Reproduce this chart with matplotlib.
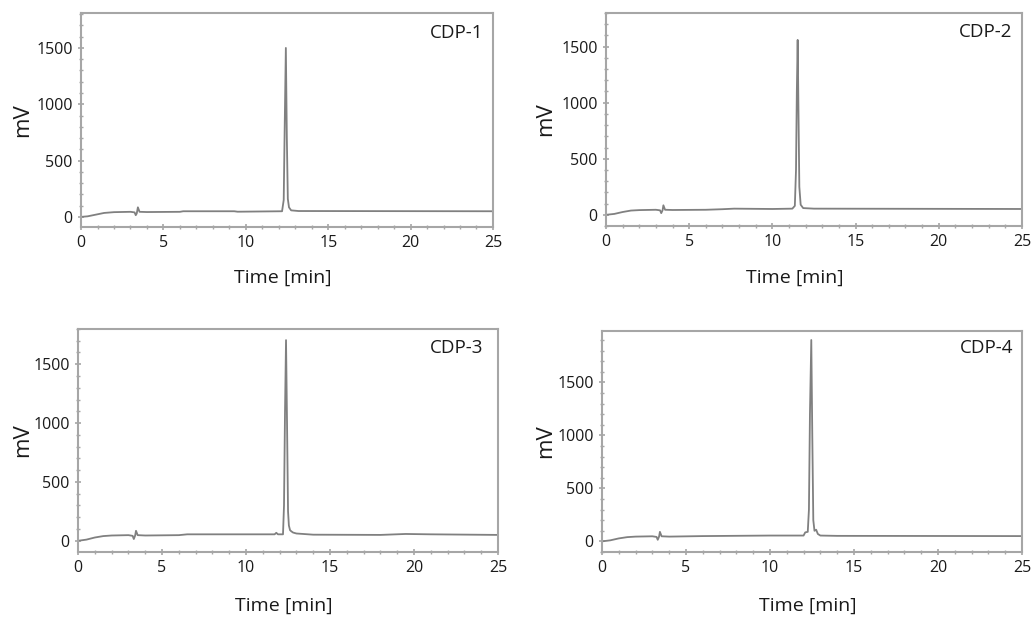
import matplotlib
matplotlib.use("Agg")
import matplotlib.pyplot as plt
from matplotlib.ticker import MultipleLocator

plt.rcParams['font.family'] = ['Open Sans', 'DejaVu Sans']

# chromatogram traces (time in min, signal in mV)
cdp1_t = [0, 0.4, 0.9, 1.4, 2.0, 3.0, 3.25, 3.32, 3.38, 3.45, 3.55, 4.0, 6.0, 6.2, 9.3, 9.5,
          12.2, 12.3, 12.36, 12.43, 12.49, 12.55, 12.62, 12.75, 13.2, 25]
cdp1_mv = [0, 5, 20, 35, 42, 45, 40, 15, 30, 85, 45, 43, 45, 50, 50, 46,
           50, 150, 800, 1500, 700, 160, 85, 58, 52, 50]

cdp2_t = [0, 0.5, 1.0, 1.5, 2.0, 3.0, 3.25, 3.32, 3.4, 3.45, 3.55, 4, 6, 7, 7.7, 10,
          11.2, 11.35, 11.42, 11.47, 11.52, 11.57, 11.62, 11.7, 11.85, 12.5, 25]
cdp2_mv = [0, 8, 25, 38, 42, 45, 40, 15, 40, 85, 45, 43, 45, 50, 55, 52,
           55, 80, 400, 1100, 1560, 900, 250, 90, 60, 55, 52]

cdp3_t = [0, 0.5, 1.0, 1.5, 2.0, 3.0, 3.25, 3.32, 3.4, 3.45, 3.55, 4, 6, 6.5, 10, 11.7, 11.8,
          11.9, 12.2, 12.26, 12.32, 12.38, 12.44, 12.5, 12.55, 12.62, 12.7, 12.8, 13, 14,
          18, 19.5, 21, 25]
cdp3_mv = [0, 10, 28, 40, 45, 48, 42, 15, 45, 85, 48, 45, 48, 55, 55, 55, 68,
           55, 55, 300, 1100, 1705, 1000, 250, 130, 90, 80, 70, 62, 52,
           50, 58, 55, 50]

cdp4_t = [0, 0.5, 1.0, 1.5, 2.0, 3.0, 3.25, 3.32, 3.4, 3.45, 3.55, 4, 6, 10, 12.0, 12.1,
          12.25, 12.32, 12.38, 12.46, 12.52, 12.58, 12.65, 12.75, 12.85, 13, 14, 25]
cdp4_mv = [0, 10, 28, 40, 45, 48, 42, 15, 45, 90, 48, 45, 50, 55, 55, 85,
           90, 300, 1200, 1900, 1000, 200, 100, 110, 70, 55, 52, 50]

names = ["CDP-1", "CDP-2", "CDP-3", "CDP-4"]
y_limits = [(-90, 1810), (-100, 1800), (-95, 1800), (-100, 1985)]

traces = [(cdp1_t, cdp1_mv), (cdp2_t, cdp2_mv), (cdp3_t, cdp3_mv), (cdp4_t, cdp4_mv)]

# axes boxes in figure fractions
boxes = [[0.0783, 0.6356, 0.398, 0.3435],
         [0.5855, 0.6372, 0.4019, 0.3419],
         [0.0754, 0.114, 0.4058, 0.358],
         [0.5816, 0.114, 0.4058, 0.3547]]
ylab_x = [-0.143, -0.144, -0.133, -0.133]
xlab_pos = [(0.49, -0.238), (0.454, -0.244), (0.49, -0.243), (0.49, -0.245)]
name_pos = [(0.976, 0.907), (0.976, 0.911), (0.964, 0.915), (0.979, 0.923)]

line_col = "#808080"
spine_col = "#a6a6a6"
text_col = "#1a1a1a"

fig = plt.figure(figsize=(10.35, 6.23), dpi=100)

for i in range(4):
    ax = fig.add_axes(boxes[i])
    t, mv = traces[i]
    ax.plot(t, mv, color=line_col, lw=1.3)
    ax.set_xlim(0, 25)
    ax.set_ylim(*y_limits[i])
    ax.xaxis.set_major_locator(MultipleLocator(5))
    ax.xaxis.set_minor_locator(MultipleLocator(1))
    ax.yaxis.set_major_locator(MultipleLocator(500))
    ax.yaxis.set_minor_locator(MultipleLocator(100))
    ax.tick_params(which='major', direction='inout', length=5, width=1.2,
                   color=spine_col, labelsize=11.5, labelcolor=text_col, pad=3.5)
    ax.tick_params(which='minor', direction='inout', length=3, width=1.0, color=spine_col)
    for s in ax.spines.values():
        s.set_color(spine_col)
        s.set_linewidth(1.5)
    ax.set_ylabel("mV", fontsize=16, color=text_col, va='center')
    ax.yaxis.set_label_coords(ylab_x[i], 0.5)
    ax.set_xlabel("Time [min]", fontsize=14, color=text_col, va='center')
    ax.xaxis.set_label_coords(*xlab_pos[i])
    ax.text(name_pos[i][0], name_pos[i][1], names[i], transform=ax.transAxes,
            ha='right', va='center', fontsize=13.5, color=text_col)

fig.savefig("out.png", dpi=100, facecolor="white")
